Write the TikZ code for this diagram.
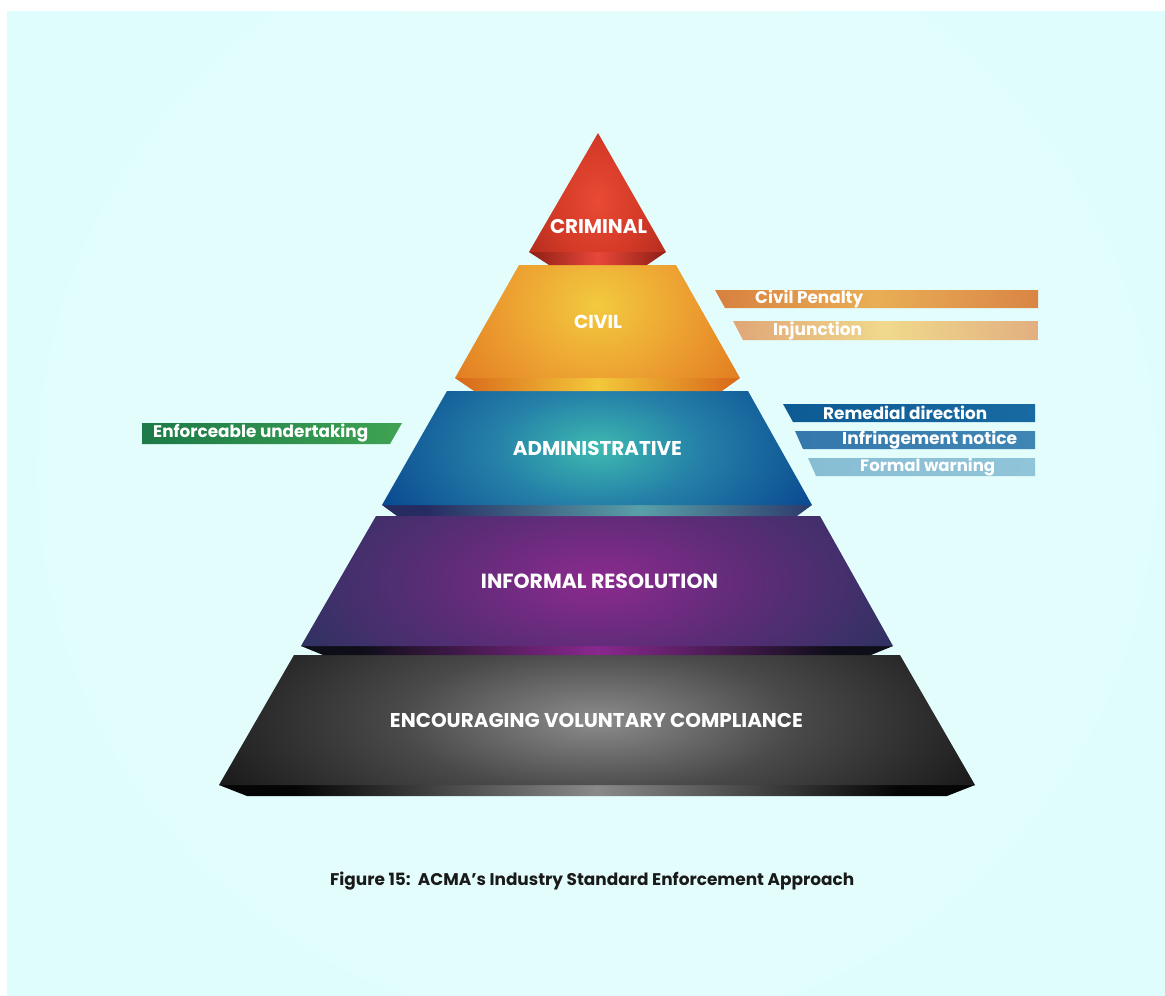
\documentclass[tikz,border=0pt]{standalone}
\usepackage{fontspec}
\setmainfont{Poppins}
\usepackage{graphicx}
\newcommand{\fitto}[2]{\resizebox{#1pt}{!}{#2}}

\definecolor{bgc}{HTML}{E0FDFD}
\definecolor{crimA}{HTML}{E84A35}\definecolor{crimB}{HTML}{D43A27}\definecolor{crimC}{HTML}{A8281C}
\definecolor{crimE}{HTML}{8E1E14}\definecolor{crimM}{HTML}{E8473A}
\definecolor{civA}{HTML}{F2CA3E}\definecolor{civB}{HTML}{EDA232}\definecolor{civC}{HTML}{E0761E}
\definecolor{civE}{HTML}{D8661A}\definecolor{civM}{HTML}{F3C83A}
\definecolor{admA}{HTML}{3DBAB0}\definecolor{admB}{HTML}{2580A8}\definecolor{admC}{HTML}{0B4C92}
\definecolor{admE}{HTML}{262B62}\definecolor{admM}{HTML}{5AA0A8}
\definecolor{infA}{HTML}{8C2A8E}\definecolor{infB}{HTML}{5E2C78}\definecolor{infC}{HTML}{2E3261}
\definecolor{infE}{HTML}{0E0E18}\definecolor{infM}{HTML}{8A2890}
\definecolor{blkA}{HTML}{8C8C8C}\definecolor{blkB}{HTML}{4A4A4A}\definecolor{blkC}{HTML}{1C1C1C}
\definecolor{blkE}{HTML}{050505}\definecolor{blkM}{HTML}{8A8A8A}
\definecolor{captc}{HTML}{1A1A1A}

\pgfdeclareradialshading{crimrad}{\pgfpoint{0bp}{0bp}}{color(0bp)=(crimA); color(16bp)=(crimB); color(34bp)=(crimC); color(50bp)=(crimC)}
\pgfdeclareradialshading{civrad}{\pgfpoint{0bp}{0bp}}{color(0bp)=(civA); color(15bp)=(civB); color(32bp)=(civC); color(50bp)=(civC)}
\pgfdeclareradialshading{admrad}{\pgfpoint{0bp}{0bp}}{color(0bp)=(admA); color(12bp)=(admB); color(27bp)=(admC); color(50bp)=(admC)}
\pgfdeclareradialshading{infrad}{\pgfpoint{0bp}{0bp}}{color(0bp)=(infA); color(13bp)=(infB); color(28bp)=(infC); color(50bp)=(infC)}
\pgfdeclareradialshading{blkrad}{\pgfpoint{0bp}{0bp}}{color(0bp)=(blkA); color(13bp)=(blkB); color(27bp)=(blkC); color(50bp)=(blkC)}
\pgfdeclarehorizontalshading{crimband}{100bp}{color(0bp)=(crimE); color(25bp)=(crimE); color(50bp)=(crimM); color(75bp)=(crimE); color(100bp)=(crimE)}
\pgfdeclarehorizontalshading{civband}{100bp}{color(0bp)=(civE); color(25bp)=(civE); color(50bp)=(civM); color(75bp)=(civE); color(100bp)=(civE)}
\pgfdeclarehorizontalshading{admband}{100bp}{color(0bp)=(admE); color(30bp)=(admE); color(55bp)=(admM); color(78bp)=(admE); color(100bp)=(admE)}
\pgfdeclarehorizontalshading{infband}{100bp}{color(0bp)=(infE); color(30bp)=(infE); color(50bp)=(infM); color(70bp)=(infE); color(100bp)=(infE)}
\pgfdeclarehorizontalshading{blkband}{100bp}{color(0bp)=(blkE); color(30bp)=(blkE); color(50bp)=(blkM); color(70bp)=(blkE); color(100bp)=(blkE)}

\tikzset{
  tiertext/.style={text=white, font=\bfseries, inner sep=0pt},
  bartext/.style={text=white, font=\bfseries, inner sep=0pt, anchor=west},
}

\begin{document}
\begin{tikzpicture}[x=1pt,y=-1pt]
\useasboundingbox (0,0) rectangle (1165,996);
% background
\fill[white] (0,0) rectangle (1165,996);
\fill[bgc] (7,11) rectangle (1165,996);
\begin{scope}
\clip (7,11) rectangle (1165,996);
\foreach \r in {80,110,...,560} \fill[white, opacity=0.035] (597,470) circle (\r);
\end{scope}

% Encouraging voluntary compliance
\shade[shading=blkband] (219,785) -- (975,785) -- (947,796) -- (247,796) -- cycle;
\begin{scope}
\clip (294,655) -- (900,655) -- (975,785) -- (219,785) -- cycle;
\shade[shading=blkrad] (219,585) rectangle (975,855);
\end{scope}
% Informal resolution
\shade[shading=infband] (301,646) -- (893,646) -- (871,655) -- (323,655) -- cycle;
\begin{scope}
\clip (376,516) -- (820,516) -- (893,646) -- (301,646) -- cycle;
\shade[shading=infrad] (301,446) rectangle (893,716);
\end{scope}
% Administrative
\shade[shading=admband] (382,505) -- (812,505) -- (797,516) -- (397,516) -- cycle;
\begin{scope}
\clip (447,391) -- (748,391) -- (812,505) -- (382,505) -- cycle;
\shade[shading=admrad] (382,332) rectangle (812,564);
\end{scope}
% Civil
\shade[shading=civband] (455,378) -- (740,378) -- (722,391) -- (474,391) -- cycle;
\begin{scope}
\clip (519,265) -- (676,265) -- (740,378) -- (455,378) -- cycle;
\shade[shading=civrad] (455,185) rectangle (740,425);
\end{scope}
% Criminal
\shade[shading=crimband] (529,252) -- (666,252) -- (647,265) -- (549,265) -- cycle;
\begin{scope}
\clip (598,133) -- (666,252) -- (529,252) -- cycle;
\shade[shading=crimrad] (529,110) rectangle (666,290);
\end{scope}

% tier labels
\node[tiertext] (criminal) at (598.5,227) {\fitto{97}{CRIMINAL}};
\node[tiertext] (civil) at (598,322) {\fitto{48}{CIVIL}};
\node[tiertext] (admin) at (597.5,448) {\fitto{169}{ADMINISTRATIVE}};
\node[tiertext] (informal) at (599.5,581) {\fitto{237}{INFORMAL RESOLUTION}};
\node[tiertext] (encourage) at (596.5,720) {\fitto{413}{ENCOURAGING VOLUNTARY COMPLIANCE}};

% side bars
\shade[left color={rgb,255:red,216;green,128;blue,63}, right color={rgb,255:red,217;green,133;blue,69}, middle color={rgb,255:red,233;green,174;blue,85}]
  (715,290) -- (1038,290) -- (1038,308) -- (725,308) -- cycle;
\node[bartext] (penalty) at (755,299) {\fitto{108}{Civil Penalty}};
\shade[left color={rgb,255:red,224;green,166;blue,119}, right color={rgb,255:red,226;green,175;blue,128}, middle color={rgb,255:red,240;green,217;blue,140}]
  (733,321) -- (1038,321) -- (1038,340) -- (743,340) -- cycle;
\node[bartext] (injunction) at (773,330.5) {\fitto{89}{Injunction}};

\shade[left color={rgb,255:red,13;green,91;blue,148}, right color={rgb,255:red,24;green,106;blue,163}]
  (783,404) -- (1035,404) -- (1035,422) -- (793,422) -- cycle;
\node[bartext] (remedial) at (823,413) {\fitto{164}{Remedial direction}};
\shade[left color={rgb,255:red,52;green,120;blue,172}, right color={rgb,255:red,64;green,134;blue,180}]
  (795,431) -- (1035,431) -- (1035,449) -- (803,449) -- cycle;
\node[bartext] (infringe) at (842,440) {\fitto{175}{Infringement notice}};
\shade[left color={rgb,255:red,136;green,190;blue,212}, right color={rgb,255:red,144;green,196;blue,216}]
  (808,458) -- (1035,458) -- (1035,476) -- (816,476) -- cycle;
\node[bartext] (warning) at (860,467) {\fitto{135}{Formal warning}};

\shade[left color={rgb,255:red,27;green,122;blue,72}, right color={rgb,255:red,63;green,163;blue,82}]
  (142,423) -- (402,423) -- (390,444) -- (142,444) -- cycle;
\node[bartext] (undertaking) at (153,433.5) {\fitto{215}{Enforceable undertaking}};

% caption
\node[anchor=west, inner sep=0pt, text=captc, font=\bfseries] (caption) at (330,881) {\fitto{524}{Figure 15:\ \ ACMA’s Industry Standard Enforcement Approach}};
\end{tikzpicture}
\end{document}
